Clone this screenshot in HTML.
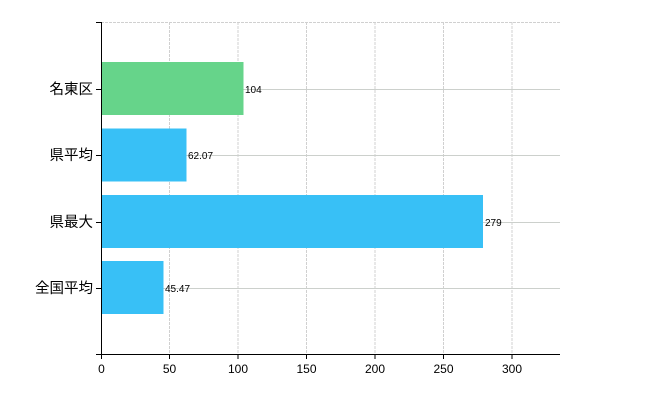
<!DOCTYPE html>
<html><head><meta charset="utf-8"><style>body{margin:0;background:#fff}</style></head><body>
<svg width="650" height="400" xmlns="http://www.w3.org/2000/svg" font-family="Liberation Sans, Noto Sans CJK JP, sans-serif">
<g stroke="#d0d0d0" stroke-width="1" stroke-dasharray="3,1">
<line x1="101" y1="22.5" x2="560" y2="22.5"/>
<line x1="169.5" y1="22" x2="169.5" y2="354"/>
<line x1="238" y1="22" x2="238" y2="354"/>
<line x1="306.5" y1="22" x2="306.5" y2="354"/>
<line x1="375" y1="22" x2="375" y2="354"/>
<line x1="443.5" y1="22" x2="443.5" y2="354"/>
<line x1="512" y1="22" x2="512" y2="354"/>
</g>
<g stroke="#ccd0cc" stroke-width="1">
<line x1="101" y1="89.5" x2="560" y2="89.5"/>
<line x1="101" y1="155.5" x2="560" y2="155.5"/>
<line x1="101" y1="222.5" x2="560" y2="222.5"/>
<line x1="101" y1="288.5" x2="560" y2="288.5"/>
</g>
<rect x="101.5" y="62" width="142" height="53" fill="#66d48a"/>
<rect x="101.5" y="128.5" width="85" height="53" fill="#38c0f6"/>
<rect x="101.5" y="195" width="381.5" height="53" fill="#38c0f6"/>
<rect x="101.5" y="261" width="62" height="53" fill="#38c0f6"/>
<g font-size="10" fill="#000">
<text x="245" y="93">104</text>
<text x="188" y="159">62.07</text>
<text x="485" y="226">279</text>
<text x="165" y="292">45.47</text>
</g>
<g stroke="#000" stroke-width="1">
<line x1="101.5" y1="22" x2="101.5" y2="355"/>
<line x1="96" y1="354.5" x2="560" y2="354.5"/>
<line x1="96" y1="22.5" x2="101" y2="22.5"/>
<line x1="96" y1="89.5" x2="101" y2="89.5"/>
<line x1="96" y1="155.5" x2="101" y2="155.5"/>
<line x1="96" y1="222.5" x2="101" y2="222.5"/>
<line x1="96" y1="288.5" x2="101" y2="288.5"/>
<line x1="101.5" y1="354" x2="101.5" y2="359"/>
<line x1="169.5" y1="354" x2="169.5" y2="359"/>
<line x1="238" y1="354" x2="238" y2="359"/>
<line x1="306.5" y1="354" x2="306.5" y2="359"/>
<line x1="375" y1="354" x2="375" y2="359"/>
<line x1="443.5" y1="354" x2="443.5" y2="359"/>
<line x1="512" y1="354" x2="512" y2="359"/>
</g>
<g font-size="14.5" fill="#000" text-anchor="end">
<text x="93" y="94">名東区</text>
<text x="93" y="160">県平均</text>
<text x="93" y="227">県最大</text>
<text x="93" y="293">全国平均</text>
</g>
<g font-size="12" fill="#000" text-anchor="middle">
<text x="101.5" y="373">0</text>
<text x="169.5" y="373">50</text>
<text x="238" y="373">100</text>
<text x="306.5" y="373">150</text>
<text x="375" y="373">200</text>
<text x="443.5" y="373">250</text>
<text x="512" y="373">300</text>
</g>
</svg>
</body></html>
